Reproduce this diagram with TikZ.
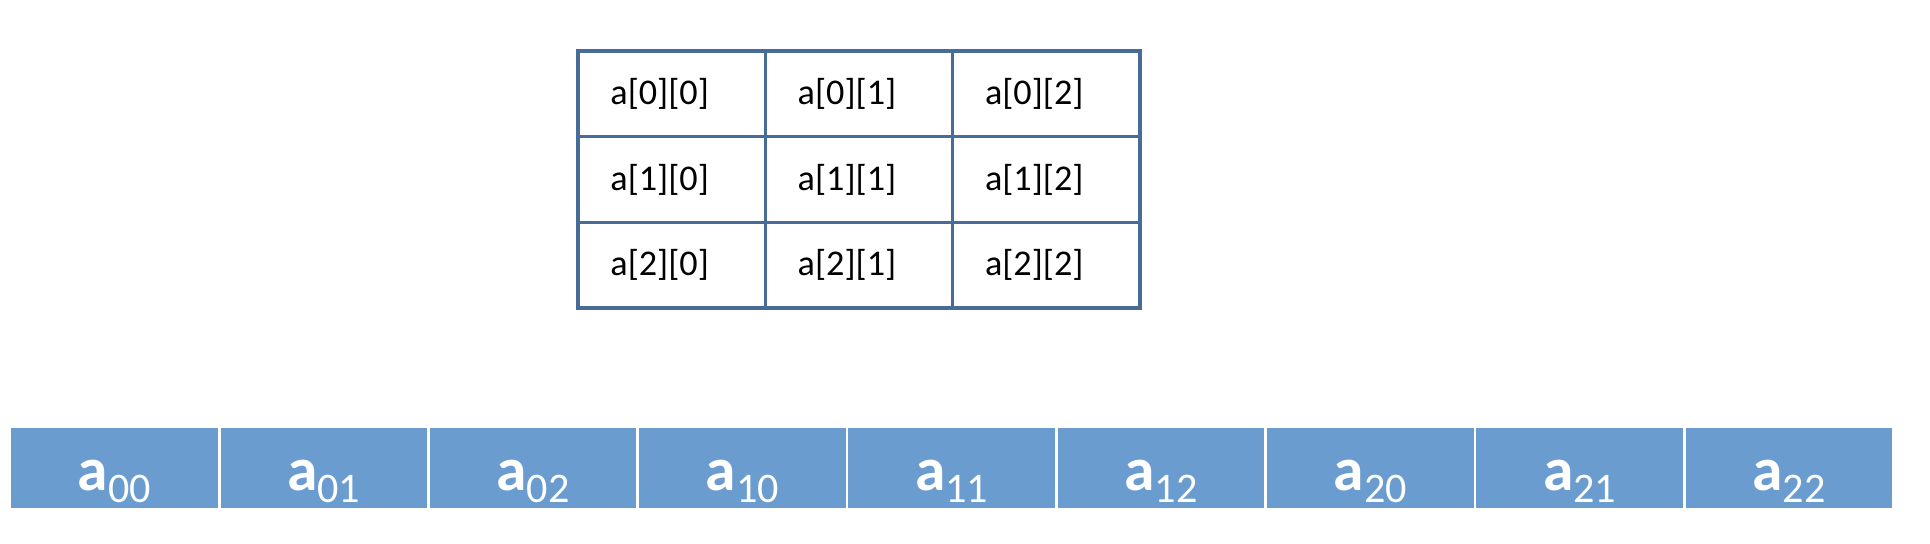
\documentclass[tikz,border=0pt]{standalone}
\usepackage{fontspec}
\setmainfont{Carlito}
\usetikzlibrary{positioning}
\definecolor{gridline}{RGB}{72,108,152}
\definecolor{cellblue}{RGB}{106,156,208}
\newcommand{\elem}[1]{{\fontsize{17.5}{20}\selectfont\bfseries a}\raisebox{-3.4pt}{\fontsize{12}{14}\selectfont #1}}

\begin{document}
\begin{tikzpicture}[
  cell/.style={draw=gridline, line width=0.95pt, minimum width=1.873cm,
    minimum height=0.857cm, inner sep=0pt, outer sep=0pt, font=\fontsize{10.3}{12}\selectfont},
  memcell/.style={fill=cellblue, draw=white, line width=0.8pt, minimum width=2.093cm,
    minimum height=0.82cm, inner sep=0pt, outer sep=0pt, text=white,
    text height=17.9pt, text depth=4.9pt}
]
\useasboundingbox (0,0) rectangle (19.30,-5.44);
% the 3x3 array
\foreach \r in {0,1,2} {
  \foreach \c in {0,1,2} {
    \node [cell] (c\r\c) at (5.78+0.9365+1.873*\c, -0.51-0.4285-0.857*\r) {a[\r][\c]\hspace*{0.24cm}};
  }
}
% the same elements laid out in memory
\node [memcell] (m00) at (0.098+1.0465, -4.68) {\elem{00}};
\node [memcell, right=0pt of m00] (m01) {\elem{01}};
\node [memcell, right=0pt of m01] (m02) {\elem{02}};
\node [memcell, right=0pt of m02] (m10) {\elem{10}};
\node [memcell, right=0pt of m10] (m11) {\elem{11}};
\node [memcell, right=0pt of m11] (m12) {\elem{12}};
\node [memcell, right=0pt of m12] (m20) {\elem{20}};
\node [memcell, right=0pt of m20] (m21) {\elem{21}};
\node [memcell, right=0pt of m21] (m22) {\elem{22}};
\end{tikzpicture}
\end{document}
